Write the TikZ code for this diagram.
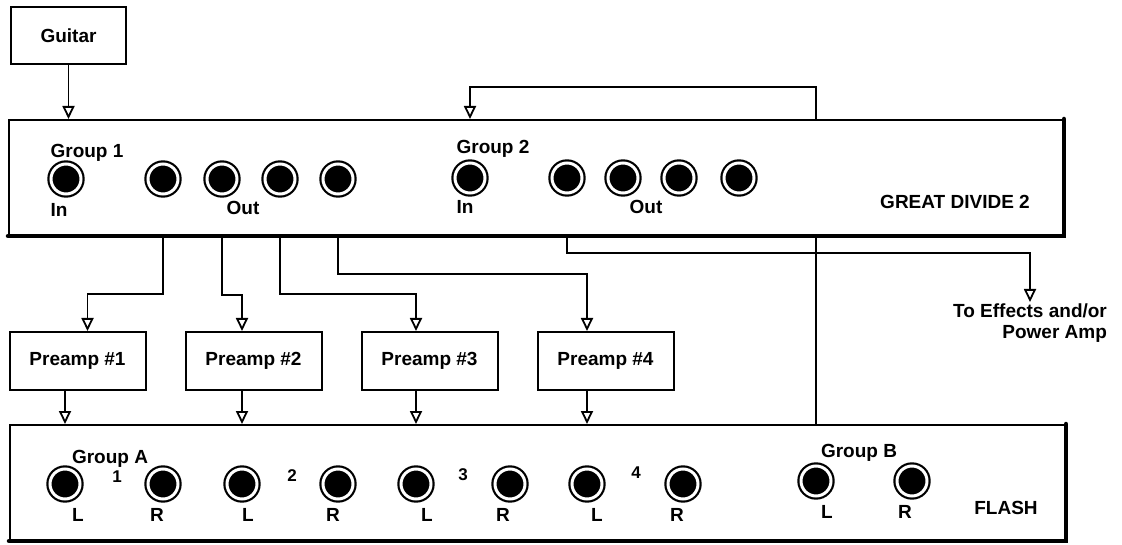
\documentclass[tikz,border=0pt]{standalone}
\usepackage{fontspec}
\setmainfont{Liberation Sans}
\usetikzlibrary{positioning,arrows.meta}

\begin{document}
\begin{tikzpicture}[x=1pt, y=-1pt,
  lbl/.style={font=\fontsize{19}{21}\selectfont\bfseries, inner sep=0pt},
  numlbl/.style={font=\fontsize{17}{19}\selectfont\bfseries, inner sep=0pt},
  unitbox/.style={rectangle, draw, line width=2pt, minimum width=1054pt,
    minimum height=115pt, inner sep=0pt},
  pbox/.style={rectangle, draw, line width=2pt, minimum width=136pt,
    minimum height=58pt, inner sep=0pt, font=\fontsize{19}{21}\selectfont\bfseries},
  jack/.style={circle, draw, fill=black, line width=2.2pt, double=white,
    double distance=3pt, minimum size=30pt, inner sep=0pt},
  sig/.style={line width=1.8pt, -{Triangle[open, length=13pt, width=12pt]}},
  wire/.style={line width=1.8pt},
  shade/.style={line width=4.5pt, line cap=round},
]
\useasboundingbox (0,0) rectangle (1122,545);
% Units
\node[pbox, minimum width=115pt, minimum height=57pt] (guitar) at (68.5,35.5) {Guitar};
\node[unitbox] (gd) at (536,177.5) {};
\node[unitbox, minimum width=1055pt] (flash) at (537.5,482.5) {};
\draw[shade] (gd.south west) -- (gd.south east) -- (gd.north east);
\draw[shade] (flash.south west) -- (flash.south east) -- (flash.north east);
% Preamps
\node[pbox] (p1) at (77.5,361) {Preamp \#1};
\node[pbox, right=38pt of p1] (p2) {Preamp \#2};
\node[pbox, right=38pt of p2] (p3) {Preamp \#3};
\node[pbox, right=38pt of p3] (p4) {Preamp \#4};
% Great Divide jacks
\node[jack] (g1in) at (66,179) {};
\foreach \n/\x in {1/163,2/222,3/280,4/338}
  \node[jack] (g1o\n) at (\x,179) {};
\node[jack] (g2in) at (470,178) {};
\foreach \n/\x in {1/567,2/623,3/679,4/739}
  \node[jack] (g2o\n) at (\x,178) {};
\node[lbl] (g1name) at (87,153) {Group 1};
\node[lbl] (g1inlbl) at (59,210) {In};
\node[lbl] (g1outlbl) at (243,208) {Out};
\node[lbl] (g2name) at (493,149) {Group 2};
\node[lbl] (g2inlbl) at (465,207) {In};
\node[lbl] (g2outlbl) at (646,207) {Out};
\node[lbl] (gdname) at (955,202) {GREAT DIVIDE 2};
% Flash jacks
\foreach \n/\l/\r in {1/65/163,2/242/338,3/416/510,4/587/683} {
  \node[jack] (aL\n) at (\l,484) {};
  \node[jack] (aR\n) at (\r,484) {};
}
\node[jack] (bL) at (816,481) {};
\node[jack] (bR) at (912,481) {};
\foreach \n/\l/\r in {1/78/157,2/248/333,3/427/503,4/597/677} {
  \node[lbl] (aLl\n) at (\l,515) {L};
  \node[lbl] (aRl\n) at (\r,515) {R};
}
\node[lbl] (bLl) at (827,512) {L};
\node[lbl] (bRl) at (905,512) {R};
\node[numlbl] (n1) at (117,477) {1};
\node[numlbl] (n2) at (292,476) {2};
\node[numlbl] (n3) at (463,475) {3};
\node[numlbl] (n4) at (636,473) {4};
\node[lbl] (aname) at (110,459) {Group A};
\node[lbl] (bname) at (859,453) {Group B};
\node[lbl] (flashname) at (1006,508) {FLASH};
% Effects output
\node[lbl, align=right, anchor=north, inner sep=2pt] (fx) at (1030,302) {To Effects and/or\\Power Amp};
% Guitar in
\draw[sig] (guitar.south) -- (guitar.south |- gd.north);
% Return loop
\draw[sig] (bL |- gd.north) -- ++(0,-32) -| (g2in |- gd.north);
\draw[wire] (bL |- gd.south) -- (bL |- flash.north);
% Outs to preamps
\draw[sig] (g1o1 |- gd.south) -- ++(0,58) -| ([xshift=10pt]p1.north);
\draw[sig] (g1o2 |- gd.south) -- ++(0,59) -| (aL2 |- p2.north);
\draw[sig] (g1o3 |- gd.south) -- ++(0,58) -| (aL3 |- p3.north);
\draw[sig] (g1o4 |- gd.south) -- ++(0,38) -| (aL4 |- p4.north);
\draw[sig] (g2o1 |- gd.south) -- ++(0,17) -| (fx.north);
% Preamps to Flash
\foreach \n in {1,...,4}
  \draw[sig] (aL\n |- p\n.south) -- (aL\n |- flash.north);
\end{tikzpicture}
\end{document}
